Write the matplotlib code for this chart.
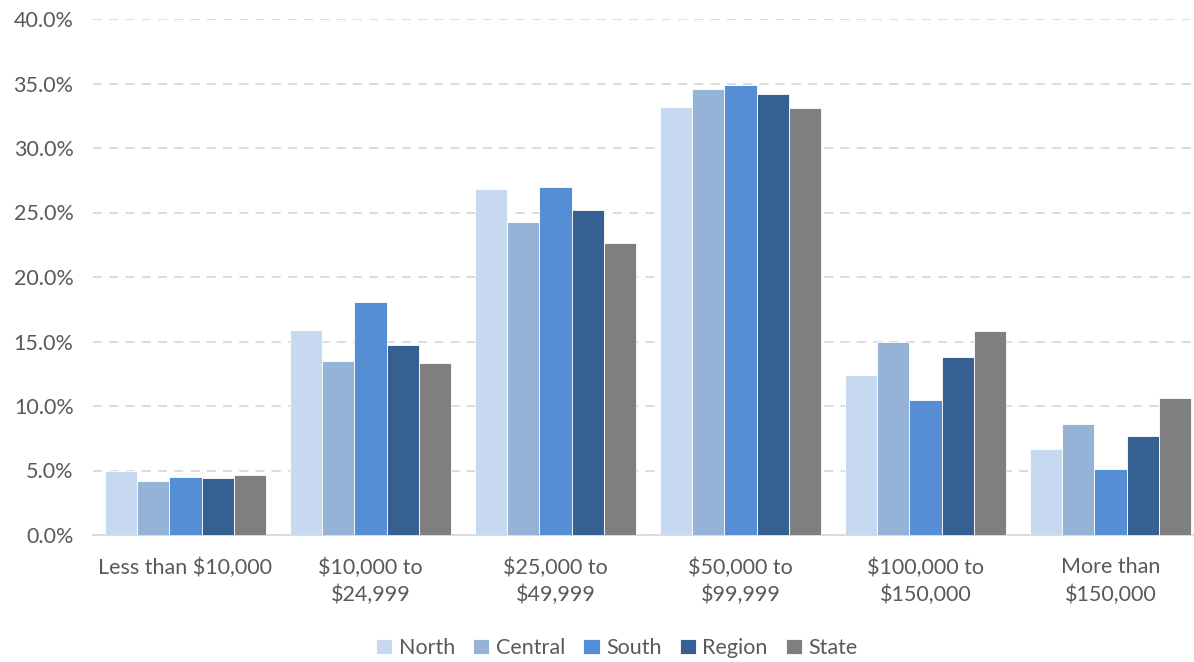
import numpy as np
import matplotlib.pyplot as plt
from matplotlib.ticker import FuncFormatter

plt.rcParams['font.family'] = ['Lato', 'DejaVu Sans']

categories = ['Less than $10,000', '$10,000 to\n$24,999', '$25,000 to\n$49,999',
              '$50,000 to\n$99,999', '$100,000 to\n$150,000', 'More than\n$150,000']
north = [5.0, 15.9, 26.8, 33.2, 12.4, 6.7]
central = [4.2, 13.5, 24.3, 34.6, 15.0, 8.6]
south = [4.5, 18.1, 27.0, 34.9, 10.5, 5.1]
region = [4.4, 14.7, 25.2, 34.2, 13.8, 7.7]
state = [4.65, 13.3, 22.6, 33.1, 15.8, 10.6]

series = [('North', north, '#c6d9f1'), ('Central', central, '#95b3d7'),
          ('South', south, '#558ed5'), ('Region', region, '#366092'),
          ('State', state, '#7f7f7f')]

fig = plt.figure(figsize=(11.94, 6.62), dpi=100)
ax = fig.add_axes([93 / 1194, 127 / 662, 1110 / 1194, 516 / 662])

x = np.arange(len(categories))
w = 0.174
for i, (name, vals, col) in enumerate(series):
    ax.bar(x + (i - 2) * w, vals, w, color=col, label=name,
           edgecolor='white', linewidth=0.6, zorder=3)

ax.set_xlim(-0.5, len(categories) - 0.5)
ax.set_ylim(0, 40)
ax.set_yticks(np.arange(0, 41, 5))
ax.yaxis.set_major_formatter(FuncFormatter(lambda v, p: f'{v:.1f}%'))
ax.grid(axis='y', color='#d9d9d9', linestyle=(0, (5, 4)), linewidth=1.3, zorder=0)
ax.set_xticks(x)
ax.set_xticklabels(categories)

for s in ['top', 'right', 'left']:
    ax.spines[s].set_visible(False)
ax.spines['bottom'].set_color('#d9d9d9')
ax.spines['bottom'].set_linewidth(1.3)
ax.tick_params(length=0, labelsize=15.5, colors='#595959')
ax.tick_params(axis='y', pad=14)
ax.tick_params(axis='x', pad=16)
for lbl in ax.get_xticklabels():
    lbl.set_linespacing(1.45)

fig.legend(loc='center', bbox_to_anchor=(617 / 1194, 1 - 648 / 662), ncol=5,
           frameon=False, fontsize=15.5, handlelength=0.75, handleheight=0.75,
           handletextpad=0.3, columnspacing=0.85, labelcolor='#595959')

fig.savefig('out.png', dpi=100)
